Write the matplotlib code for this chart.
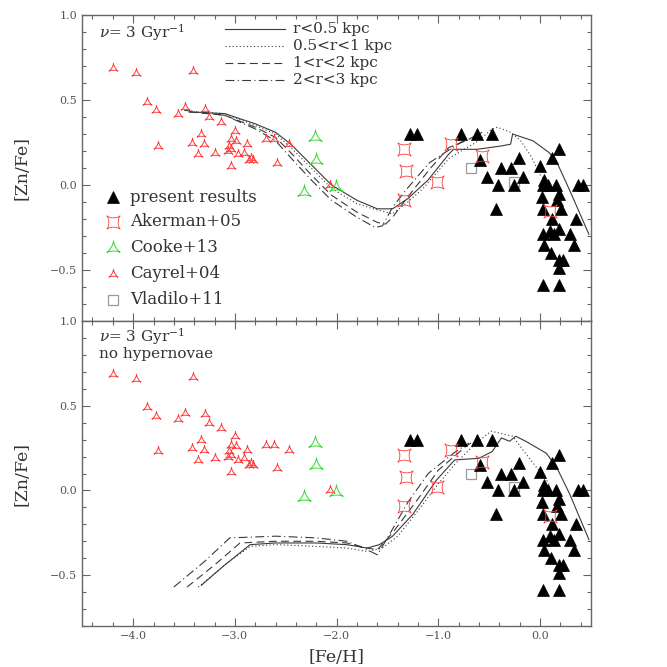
import numpy as np
import matplotlib
matplotlib.use("Agg")
import matplotlib.pyplot as plt
from matplotlib.path import Path
from matplotlib.ticker import MultipleLocator

# ---------------- data ----------------
cayrel_feh = [-4.20, -3.97, -3.41, -3.86, -3.78, -3.76, -3.56, -3.49, -3.29, -3.25,
              -3.14, -3.33, -3.42, -3.30, -3.36, -3.20, -3.00, -3.04, -2.99, -3.06,
              -3.04, -3.07, -2.97, -2.91, -2.88, -3.04, -2.84, -2.82, -2.86, -2.69,
              -2.62, -2.47, -2.59, -2.07]
cayrel_znfe = [0.69, 0.66, 0.67, 0.49, 0.44, 0.23, 0.42, 0.46, 0.45, 0.40,
               0.37, 0.30, 0.25, 0.24, 0.18, 0.19, 0.32, 0.27, 0.26, 0.23,
               0.21, 0.20, 0.18, 0.19, 0.24, 0.11, 0.16, 0.15, 0.15, 0.27,
               0.27, 0.24, 0.13, 0.00]

cooke_feh = [-2.21, -2.20, -2.32, -2.01]
cooke_znfe = [0.28, 0.15, -0.04, -0.01]

akerman_feh = [-1.34, -1.32, -1.34, -1.01, -0.88, -0.57, 0.10]
akerman_znfe = [0.21, 0.08, -0.09, 0.02, 0.24, 0.17, -0.15]

vladilo_feh = [-0.68, -0.26]
vladilo_znfe = [0.10, 0.02]

present_feh = [-1.28, -1.21, -0.78, -0.62, -0.47, -0.59, 0.19, 0.12, -0.38, -0.29,
               -0.21, 0.00, -0.52, -0.41, -0.26, -0.17, 0.04, 0.03, 0.08, 0.16,
               0.37, 0.42, 0.19, 0.02, 0.17, -0.43, 0.03, 0.21, 0.12, 0.35,
               0.03, 0.10, 0.19, 0.14, 0.29, 0.33, 0.04, 0.11, 0.19, 0.23,
               0.19, 0.03, 0.19]
present_znfe = [0.30, 0.30, 0.30, 0.30, 0.30, 0.15, 0.21, 0.16, 0.10, 0.10,
                0.16, 0.11, 0.05, 0.00, 0.00, 0.05, 0.03, 0.00, 0.00, 0.00,
                0.00, 0.00, -0.05, -0.07, -0.09, -0.14, -0.14, -0.14, -0.20, -0.20,
                -0.29, -0.27, -0.26, -0.29, -0.29, -0.35, -0.35, -0.40, -0.44, -0.44,
                -0.49, -0.59, -0.59]

# model curves, top panel (with hypernovae)
top_r05_x = [-3.45, -3.1, -2.8, -2.6, -2.45, -2.25, -2.05, -1.8, -1.6, -1.45, -1.3, -1.1,
             -0.9, -0.85, -0.62, -0.38, -0.29, -0.27, -0.07, 0.09, 0.16, 0.29, 0.48]
top_r05_y = [0.43, 0.42, 0.36, 0.31, 0.24, 0.12, 0.00, -0.09, -0.14, -0.14, -0.08, 0.03,
             0.18, 0.21, 0.21, 0.23, 0.24, 0.30, 0.26, 0.19, 0.14, -0.03, -0.29]
top_r1_x = [-3.4, -3.1, -2.8, -2.6, -2.45, -2.25, -2.05, -1.8, -1.64, -1.45, -1.3, -1.15,
            -0.89, -0.63, -0.47, -0.42, -0.29, -0.19, -0.09, 0.0, 0.1]
top_r1_y = [0.43, 0.42, 0.35, 0.30, 0.22, 0.10, -0.02, -0.11, -0.14, -0.17, -0.10, -0.02,
            0.16, 0.25, 0.33, 0.34, 0.31, 0.26, 0.17, 0.06, 0.00]
top_r2_x = [-3.45, -3.1, -2.8, -2.6, -2.45, -2.25, -2.05, -1.8, -1.6, -1.52, -1.45, -1.3,
            -1.09, -0.9, -0.73, -0.57]
top_r2_y = [0.43, 0.41, 0.34, 0.28, 0.19, 0.06, -0.06, -0.16, -0.22, -0.23, -0.19, -0.07,
            0.09, 0.22, 0.26, 0.31]
top_r3_x = [-3.5, -3.1, -2.8, -2.6, -2.45, -2.25, -2.05, -1.8, -1.62, -1.55, -1.45, -1.32,
            -1.09, -0.86, -0.73]
top_r3_y = [0.44, 0.41, 0.33, 0.26, 0.16, 0.03, -0.09, -0.19, -0.25, -0.24, -0.13, -0.03,
            0.13, 0.22, 0.27]

# model curves, bottom panel (no hypernovae)
bot_r05_x = [-3.33, -3.1, -2.85, -2.6, -2.2, -1.9, -1.7, -1.58, -1.45, -1.25, -1.02, -0.84,
             -0.6, -0.47, -0.38, -0.3, -0.24, -0.14, 0.06, 0.16, 0.29, 0.48]
bot_r05_y = [-0.56, -0.44, -0.32, -0.31, -0.31, -0.32, -0.34, -0.32, -0.27, -0.14, 0.06, 0.18,
             0.19, 0.23, 0.31, 0.29, 0.32, 0.29, 0.22, 0.14, -0.02, -0.29]
bot_r1_x = [-3.36, -3.1, -2.85, -2.6, -2.2, -1.9, -1.7, -1.55, -1.4, -1.2, -1.0, -0.83,
            -0.63, -0.48, -0.27, -0.17, -0.04, 0.09]
bot_r1_y = [-0.57, -0.44, -0.33, -0.32, -0.33, -0.34, -0.36, -0.34, -0.27, -0.12, 0.04, 0.16,
            0.28, 0.35, 0.32, 0.24, 0.14, 0.04]
bot_r2_x = [-3.47, -3.2, -2.95, -2.6, -2.2, -1.9, -1.7, -1.6, -1.45, -1.2, -1.0, -0.73, -0.6]
bot_r2_y = [-0.57, -0.44, -0.31, -0.30, -0.30, -0.31, -0.34, -0.35, -0.25, -0.05, 0.12, 0.26, 0.31]
bot_r3_x = [-3.6, -3.3, -3.05, -2.6, -2.2, -1.9, -1.7, -1.6, -1.5, -1.3, -1.1, -0.85, -0.7]
bot_r3_y = [-0.57, -0.42, -0.28, -0.27, -0.28, -0.30, -0.35, -0.38, -0.28, -0.07, 0.10, 0.22, 0.28]

line_labels = ["r<0.5 kpc", "0.5<r<1 kpc", "1<r<2 kpc", "2<r<3 kpc"]
data_labels = ["present results", "Akerman+05", "Cooke+13", "Cayrel+04", "Vladilo+11"]

# ---------------- markers ----------------
t = np.linspace(0, 2 * np.pi, 161)
# deltoid (3-cusp), one cusp pointing up
dx = 2 * np.cos(t) + np.cos(2 * t)
dy = 2 * np.sin(t) - np.sin(2 * t)
ang = np.pi / 2
deltoid = Path(np.column_stack([dx * np.cos(ang) - dy * np.sin(ang),
                                dx * np.sin(ang) + dy * np.cos(ang)]), closed=True)
# 4-cusp star rotated 45 deg
ax_ = np.sign(np.cos(t)) * np.abs(np.cos(t)) ** 3
ay_ = np.sign(np.sin(t)) * np.abs(np.sin(t)) ** 3
a45 = np.pi / 4
astroid = Path(np.column_stack([ax_ * np.cos(a45) - ay_ * np.sin(a45),
                                ax_ * np.sin(a45) + ay_ * np.cos(a45)]), closed=True)

RED = "#ff3b3b"
GREEN = "#35d835"
GREY = "#9a9a9a"
LINEC = "#3a3a3a"
AXC = "#666666"

plt.rcParams["font.family"] = ["DejaVu Serif"]
plt.rcParams["mathtext.fontset"] = "dejavuserif"

fig = plt.figure(figsize=(6.67, 6.67), dpi=100)
L, W = 0.1234, 0.7626
ax1 = fig.add_axes([L, 0.5187, W, 0.4588])
ax2 = fig.add_axes([L, 0.0615, W, 0.4572])

styles = [dict(ls="-"), dict(ls=(0, (1, 2.2))), dict(ls=(0, (7, 4))), dict(ls=(0, (8, 3, 1, 3)))]

MK_PRESENT = dict(marker="^", ms=8, mfc="black", mec="black", mew=0.5)
MK_AKERMAN = dict(marker=astroid, ms=9.5, mfc="none", mec=RED, mew=0.6)
MK_COOKE = dict(marker=deltoid, ms=11, mfc="none", mec=GREEN, mew=0.7)
MK_CAYREL = dict(marker=deltoid, ms=7.5, mfc="none", mec=RED, mew=0.7)
MK_VLADILO = dict(marker="s", ms=7.7, mfc="none", mec=GREY, mew=0.9)

def draw_points(ax):
    ax.plot(cayrel_feh, cayrel_znfe, ls="none", **MK_CAYREL)
    ax.plot(cooke_feh, cooke_znfe, ls="none", **MK_COOKE)
    ax.plot(vladilo_feh, vladilo_znfe, ls="none", **MK_VLADILO)
    ax.plot(present_feh, present_znfe, ls="none", **MK_PRESENT)
    ax.plot(akerman_feh, akerman_znfe, ls="none", **MK_AKERMAN)

def style_axes(ax, bottom_labels):
    ax.set_xlim(-4.5, 0.5)
    ax.set_ylim(-0.8, 1.0)
    ax.xaxis.set_major_locator(MultipleLocator(1.0))
    ax.xaxis.set_minor_locator(MultipleLocator(0.2))
    ax.yaxis.set_major_locator(MultipleLocator(0.5))
    ax.yaxis.set_minor_locator(MultipleLocator(0.1))
    ax.tick_params(which="both", direction="in", top=True, right=True, color=AXC,
                   labelcolor="#555555", labelsize=8)
    ax.tick_params(which="major", length=5.5, width=0.8)
    ax.tick_params(which="minor", length=2.6, width=0.8)
    ax.set_yticks([-0.5, 0.0, 0.5, 1.0])
    ax.set_yticklabels(["\u22120.5", "0.0", "0.5", "1.0"])
    if bottom_labels:
        ax.set_xticks([-4, -3, -2, -1, 0])
        ax.set_xticklabels(["\u22124.0", "\u22123.0", "\u22122.0", "\u22121.0", "0.0"])
        ax.set_xlabel("[Fe/H]", fontsize=12.5, color="#333333", labelpad=6)
    else:
        ax.tick_params(labelbottom=False)
    ax.set_ylabel("[Zn/Fe]", fontsize=12.5, color="#333333", labelpad=14)
    for s in ax.spines.values():
        s.set_color(AXC)
        s.set_linewidth(1.0)

# top panel
for (xs, ys), st in zip([(top_r05_x, top_r05_y), (top_r1_x, top_r1_y),
                         (top_r2_x, top_r2_y), (top_r3_x, top_r3_y)], styles):
    ax1.plot(xs, ys, color=LINEC, lw=0.8, **st)
draw_points(ax1)
style_axes(ax1, False)
ax1.text(0.033, 0.944, r"$\nu$= 3 Gyr$^{-1}$", transform=ax1.transAxes, fontsize=11,
         va="center", ha="left", color="#333333")

# line legend (top panel)
ly = [0.954, 0.899, 0.843, 0.788]
for yv, st, lab in zip(ly, styles, line_labels):
    ax1.plot([0.2805, 0.398], [yv, yv], transform=ax1.transAxes, color=LINEC, lw=0.8, **st)
    ax1.text(0.414, yv, lab, transform=ax1.transAxes, fontsize=11, va="center",
             ha="left", color="#333333")

# symbol legend (top panel)
my = [0.405, 0.324, 0.239, 0.154, 0.069]
mk = [MK_PRESENT, MK_AKERMAN, MK_COOKE, MK_CAYREL, MK_VLADILO]
for yv, m, lab in zip(my, mk, data_labels):
    ax1.plot([0.060], [yv], transform=ax1.transAxes, ls="none", **m)
    ax1.text(0.094, yv, lab, transform=ax1.transAxes, fontsize=12, va="center",
             ha="left", color="#333333")

# bottom panel
for (xs, ys), st in zip([(bot_r05_x, bot_r05_y), (bot_r1_x, bot_r1_y),
                         (bot_r2_x, bot_r2_y), (bot_r3_x, bot_r3_y)], styles):
    ax2.plot(xs, ys, color=LINEC, lw=0.8, **st)
draw_points(ax2)
style_axes(ax2, True)
ax2.text(0.033, 0.949, r"$\nu$= 3 Gyr$^{-1}$", transform=ax2.transAxes, fontsize=11,
         va="center", ha="left", color="#333333")
ax2.text(0.033, 0.892, "no hypernovae", transform=ax2.transAxes, fontsize=11,
         va="center", ha="left", color="#333333")

fig.savefig("out.png", dpi=100)
